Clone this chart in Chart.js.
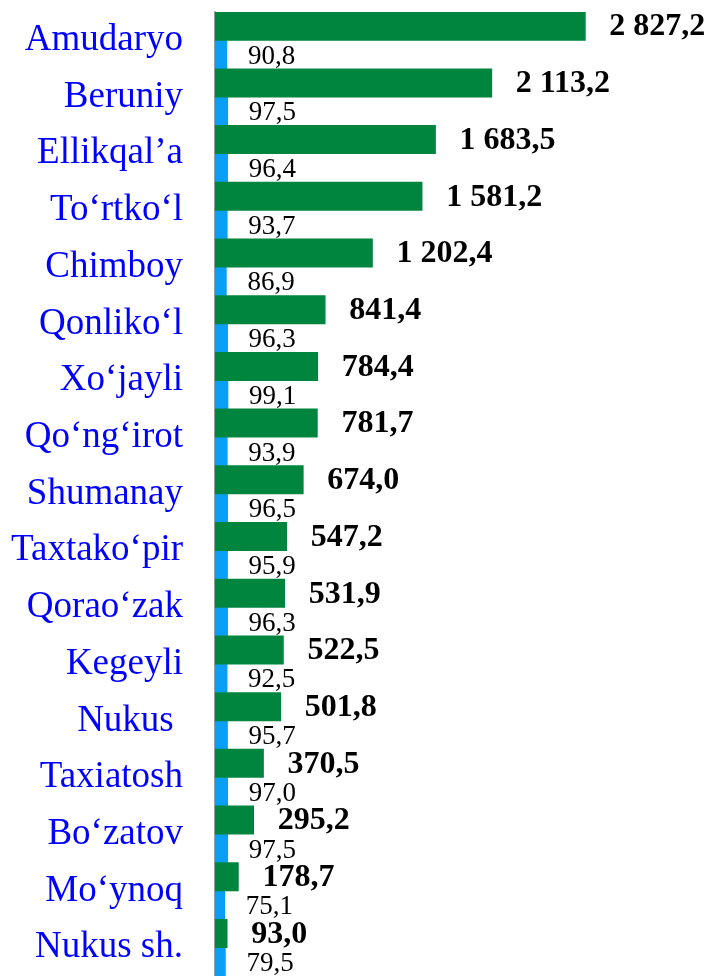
<!DOCTYPE html>
<html>
<head>
<meta charset="utf-8">
<script src="https://cdn.jsdelivr.net/npm/chart.js@4.4.1/dist/chart.umd.min.js"></script>
<style>
  html, body { margin: 0; padding: 0; background: #fff; }
  canvas { display: block; }
</style>
</head>
<body>
<canvas id="chart" width="707" height="976"></canvas>
<script>
const districts = [
    "Amudaryo", "Beruniy", "Ellikqal’a", "To‘rtko‘l", "Chimboy", "Qonliko‘l",
    "Xo‘jayli", "Qo‘ng‘irot", "Shumanay", "Taxtako‘pir", "Qorao‘zak", "Kegeyli",
    "Nukus ", "Taxiatosh", "Bo‘zatov", "Mo‘ynoq", "Nukus sh."
];
const volumeValues = [
    2827.2, 2113.2, 1683.5, 1581.2, 1202.4, 841.4, 784.4, 781.7, 674.0,
    547.2, 531.9, 522.5, 501.8, 370.5, 295.2, 178.7, 93.0
];
const percentValues = [
    90.8, 97.5, 96.4, 93.7, 86.9, 96.3, 99.1, 93.9, 96.5,
    95.9, 96.3, 92.5, 95.7, 97.0, 97.5, 75.1, 79.5
];

// 2827.2 -> "2 827,2"
function fmt(v) {
    let [int, dec] = v.toFixed(1).split('.');
    int = int.replace(/\B(?=(\d{3})+(?!\d))/g, ' ');
    return int + ',' + dec;
}

const valueLabelsPlugin = {
    id: 'valueLabels',
    afterDatasetsDraw(chart) {
        const ctx = chart.ctx;
        ctx.save();
        ctx.textBaseline = 'middle';
        ctx.textAlign = 'left';
        ctx.fillStyle = '#000';
        chart.data.datasets.forEach((ds, di) => {
            const meta = chart.getDatasetMeta(di);
            ctx.font = di === 0 ? 'bold 32px "Liberation Serif"' : '27px "Liberation Serif"';
            const dx = di === 0 ? 24 : 21;
            const dy = di === 0 ? 1 : 2;
            meta.data.forEach((bar, i) => {
                ctx.fillText(fmt(ds.data[i]), bar.x + dx, bar.y + dy);
            });
        });
        ctx.restore();
    }
};

const ctx = document.getElementById('chart').getContext('2d');
new Chart(ctx, {
    type: 'bar',
    data: {
        labels: districts,
        datasets: [
            {
                label: 'volume',
                data: volumeValues,
                backgroundColor: '#00853E',
                categoryPercentage: 1,
                barPercentage: 1
            },
            {
                label: 'percent',
                data: percentValues,
                backgroundColor: '#0A9FF6',
                categoryPercentage: 1,
                barPercentage: 1
            }
        ]
    },
    options: {
        indexAxis: 'y',
        responsive: false,
        animation: false,
        devicePixelRatio: 1,
        layout: { padding: { top: 12, bottom: 0, left: 0, right: 99 } },
        plugins: {
            legend: { display: false },
            tooltip: { enabled: false }
        },
        scales: {
            x: {
                display: false,
                min: 0,
                max: 3000
            },
            y: {
                grid: { display: false, drawTicks: false },
                border: { display: true, color: '#999999', width: 1.5 },
                ticks: {
                    autoSkip: false,
                    padding: 32,
                    color: '#0000FF',
                    font: { family: 'Liberation Serif', size: 37 }
                },
                afterFit(scale) {
                    scale.width = 215;
                    scale.paddingTop = 0;
                    scale.paddingBottom = 0;
                }
            }
        }
    },
    plugins: [valueLabelsPlugin]
});
</script>
</body>
</html>
